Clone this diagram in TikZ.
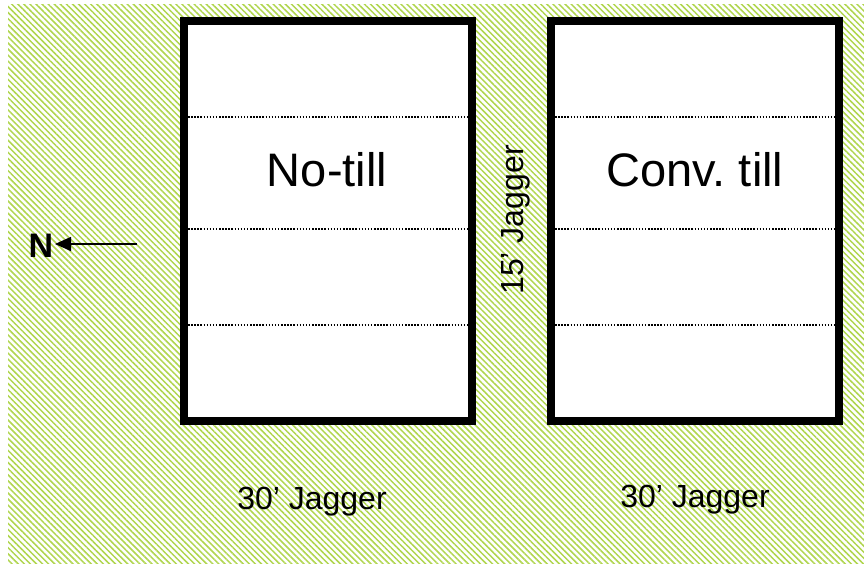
\documentclass[tikz,border=0pt]{standalone}
\usepackage{fontspec}
\setmainfont{Liberation Sans}
\usetikzlibrary{patterns.meta,arrows.meta}
\definecolor{hatch}{RGB}{176,214,78}
\tikzset{
  plotbox/.style={draw=black,line width=7.5pt,fill=white},
  divider/.style={line width=1.3pt,dash pattern=on 1.5pt off 1.6pt},
  biglabel/.style={font=\fontsize{47}{50}\selectfont,inner sep=0pt,anchor=base},
  jagger/.style={font=\fontsize{32}{36}\selectfont,inner sep=0pt,anchor=base},
}
\begin{document}
\frenchspacing
\begin{tikzpicture}[x=1pt,y=-1pt]
\useasboundingbox (0,0) rectangle (864,564);
% hatched field
\fill[white] (0,0) rectangle (864,564);
\pattern[pattern={Lines[angle=-45,distance=4.3pt,line width=1.5pt]},pattern color=hatch] (8,5) rectangle (864,564);
% plots
\draw[plotbox] (184,21) rectangle (472,421);
\draw[plotbox] (551,21) rectangle (839,421);
% dividers
\coordinate (l1a) at (188,117); \coordinate (l1b) at (468,117);
\coordinate (l2a) at (188,229); \coordinate (l2b) at (468,229);
\coordinate (l3a) at (188,325); \coordinate (l3b) at (468,325);
\coordinate (r1a) at (555,117); \coordinate (r1b) at (835,117);
\coordinate (r2a) at (555,229); \coordinate (r2b) at (835,229);
\coordinate (r3a) at (555,325); \coordinate (r3b) at (835,325);
\draw[divider] (l1a) -- (l1b);
\draw[divider] (l2a) -- (l2b);
\draw[divider] (l3a) -- (l3b);
\draw[divider] (r1a) -- (r1b);
\draw[divider] (r2a) -- (r2b);
\draw[divider] (r3a) -- (r3b);
% labels
\node[biglabel] (notill) at (327,186) {No-till};
\node[biglabel] (conv) at (695,186) {Conv. till};
\node[jagger,rotate=90] (j15) at (523,220) {15’ Jagger};
\node[jagger] (j30a) at (312,509) {30’ Jagger};
\node[jagger] (j30b) at (695,507) {30’ Jagger};
% north arrow
\node[font=\bfseries\fontsize{34}{36}\selectfont,inner sep=0pt,anchor=base] (N) at (41,257) {N};
\coordinate (arrstart) at (137,244);
\coordinate (arrtip) at (55,244);
\draw[line width=1.5pt,-{Triangle[length=16pt,width=14pt]}] (arrstart) -- (arrtip);
\end{tikzpicture}
\end{document}
